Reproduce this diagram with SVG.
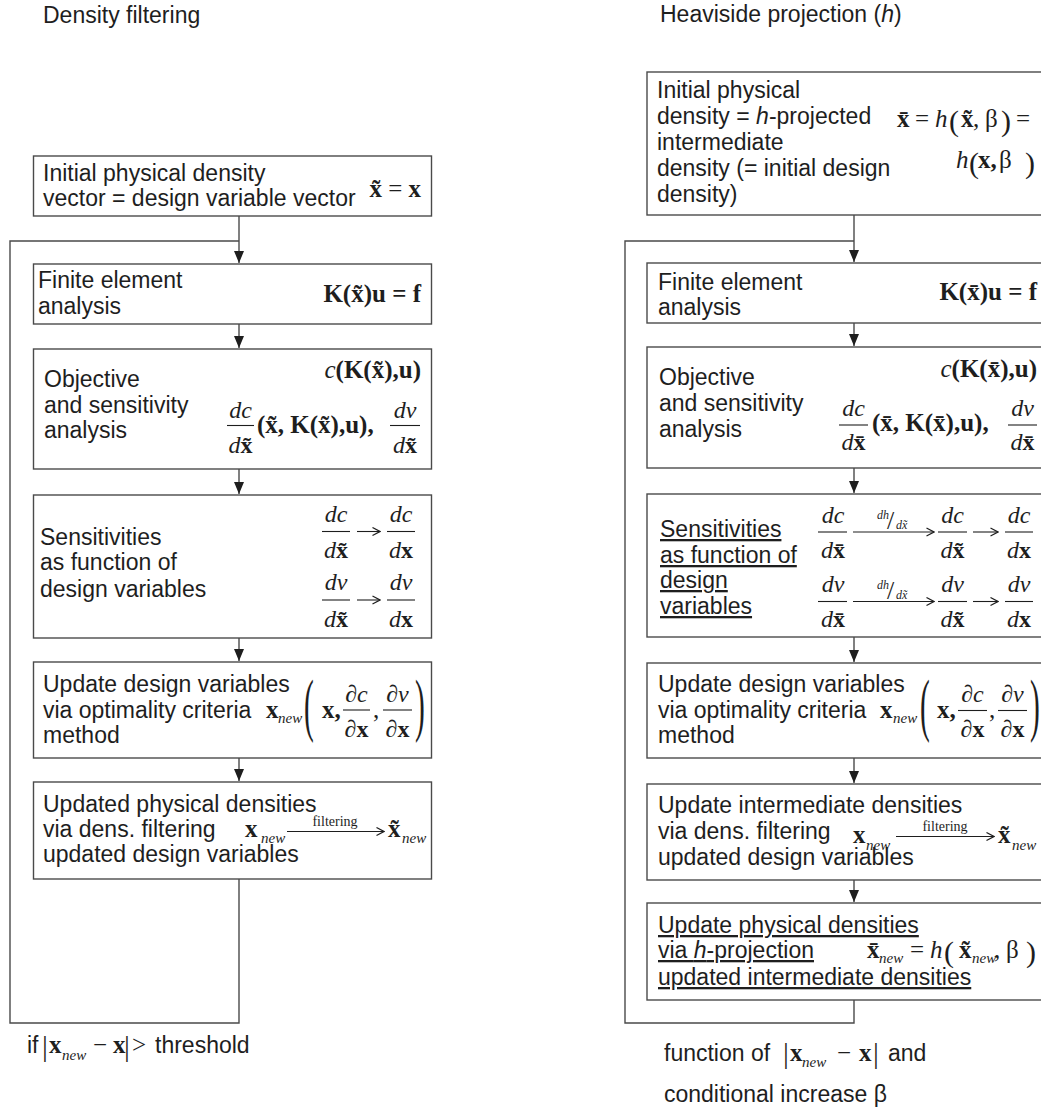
<svg xmlns="http://www.w3.org/2000/svg" width="1041" height="1111" viewBox="0 0 1041 1111">
<defs>
<style>
.t{font-family:"Liberation Sans",Arial,sans-serif;font-size:23px;fill:#1e1e1e}
.m{font-family:"Liberation Serif","Times New Roman",serif;font-size:25px;fill:#1e1e1e}
.f{font-family:"Liberation Serif","Times New Roman",serif;font-size:24px;fill:#1e1e1e}
.b{font-weight:bold}
.i{font-style:italic}
.sub{font-family:"Liberation Serif","Times New Roman",serif;font-size:15px;font-style:italic;fill:#1e1e1e}
.lbl{font-family:"Liberation Serif","Times New Roman",serif;font-size:14px;fill:#1e1e1e}
.sm{font-size:12px}
.sl{font-size:26px}
.bar{font-size:29px}
.p30{font-size:30px}
.big{font-size:70px}
.box{fill:#fff;stroke:#4a4a4a;stroke-width:1.4}
.ln{fill:none;stroke:#4a4a4a;stroke-width:1.4}
.fr{stroke:#1e1e1e;stroke-width:1.1}
.ar{fill:none;stroke:#1e1e1e;stroke-width:1.1}
.u{text-decoration:underline}
</style>
<marker id="ah" viewBox="0 0 12 10" refX="12" refY="5" markerWidth="12" markerHeight="10" markerUnits="userSpaceOnUse" orient="auto"><path d="M0,0 L12,5 L0,10 z" fill="#1e1e1e"/></marker>
<marker id="ch" viewBox="0 0 9 10" refX="8.5" refY="5" markerWidth="9" markerHeight="10" markerUnits="userSpaceOnUse" orient="auto"><path d="M1,1 L8.5,5 L1,9" fill="none" stroke="#1e1e1e" stroke-width="1.2"/></marker>
</defs>
<rect width="1041" height="1111" fill="#fff"/>

<text class="t" x="43" y="23">Density filtering</text>
<text class="t" x="660" y="22">Heaviside projection (<tspan class="i">h</tspan>)</text>

<g id="connectors">
<path class="ln" d="M239,216 V263" marker-end="url(#ah)"/>
<path class="ln" d="M239,879 V1023 H10 V241 H239"/>
<path class="ln" d="M239,324 V348" marker-end="url(#ah)"/>
<path class="ln" d="M239,469 V494" marker-end="url(#ah)"/>
<path class="ln" d="M239,638 V661" marker-end="url(#ah)"/>
<path class="ln" d="M239,758 V781" marker-end="url(#ah)"/>
<path class="ln" d="M854,215 V262" marker-end="url(#ah)"/>
<path class="ln" d="M854,1000 V1023 H625 V241 H854"/>
<path class="ln" d="M854,323 V346" marker-end="url(#ah)"/>
<path class="ln" d="M854,468 V493" marker-end="url(#ah)"/>
<path class="ln" d="M854,637 V662" marker-end="url(#ah)"/>
<path class="ln" d="M854,758 V783" marker-end="url(#ah)"/>
<path class="ln" d="M854,880 V902" marker-end="url(#ah)"/>
</g>

<!-- LEFT COLUMN -->
<g id="l-init">
<rect class="box" x="33.5" y="156" width="398" height="60"/>
<text class="t" x="43" y="181">Initial physical density</text>
<text class="t" x="43" y="206">vector = design variable vector</text>
<text class="m" x="421" y="197" text-anchor="end"><tspan class="b">x&#x303;</tspan> = <tspan class="b">x</tspan></text>
</g>

<g id="l-fea">
<rect class="box" x="33.5" y="264" width="398" height="60"/>
<text class="t" x="38" y="288">Finite element</text>
<text class="t" x="38" y="314">analysis</text>
<text class="m b" x="421" y="302" text-anchor="end">K(x&#x303;)u = f</text>
</g>

<g id="l-obj">
<rect class="box" x="33.5" y="349" width="398" height="120"/>
<text class="t" x="44" y="387">Objective</text>
<text class="t" x="44" y="413">and sensitivity</text>
<text class="t" x="44" y="438">analysis</text>
<text class="m" x="421" y="378" text-anchor="end"><tspan class="i">c</tspan><tspan class="b">(K(x&#x303;),u)</tspan></text>
<text class="f i" x="240.5" y="418" text-anchor="middle">dc</text>
<line class="fr" x1="227" y1="425.5" x2="254" y2="425.5"/>
<text class="f" x="240.5" y="453" text-anchor="middle"><tspan class="i">d</tspan><tspan class="b">x&#x303;</tspan></text>
<text class="m b" x="257" y="433">(x&#x303;, K(x&#x303;),u),</text>
<text class="f i" x="405" y="418" text-anchor="middle">dv</text>
<line class="fr" x1="390" y1="425.5" x2="420" y2="425.5"/>
<text class="f" x="405" y="453" text-anchor="middle"><tspan class="i">d</tspan><tspan class="b">x&#x303;</tspan></text>
</g>

<g id="l-sens">
<rect class="box" x="33.5" y="495" width="398" height="143"/>
<text class="t" x="40" y="545">Sensitivities</text>
<text class="t" x="40" y="570">as function of</text>
<text class="t" x="40" y="597">design variables</text>
<text class="f i" x="336" y="522" text-anchor="middle">dc</text>
<line class="fr" x1="322" y1="531.5" x2="350" y2="531.5"/>
<text class="f" x="336" y="558" text-anchor="middle"><tspan class="i">d</tspan><tspan class="b">x&#x303;</tspan></text>
<line class="ar" x1="357" y1="531.5" x2="380" y2="531.5" marker-end="url(#ch)"/>
<text class="f i" x="401" y="522" text-anchor="middle">dc</text>
<line class="fr" x1="387" y1="531.5" x2="415" y2="531.5"/>
<text class="f" x="401" y="558" text-anchor="middle"><tspan class="i">d</tspan><tspan class="b">x</tspan></text>
<text class="f i" x="336" y="590" text-anchor="middle">dv</text>
<line class="fr" x1="322" y1="600" x2="350" y2="600"/>
<text class="f" x="336" y="627" text-anchor="middle"><tspan class="i">d</tspan><tspan class="b">x&#x303;</tspan></text>
<line class="ar" x1="357" y1="600" x2="380" y2="600" marker-end="url(#ch)"/>
<text class="f i" x="401" y="590" text-anchor="middle">dv</text>
<line class="fr" x1="387" y1="600" x2="415" y2="600"/>
<text class="f" x="401" y="627" text-anchor="middle"><tspan class="i">d</tspan><tspan class="b">x</tspan></text>
</g>

<g id="l-update">
<rect class="box" x="33.5" y="662" width="398" height="96"/>
<text class="t" x="43" y="692">Update design variables</text>
<text class="t" x="43" y="718">via optimality criteria</text>
<text class="t" x="43" y="743">method</text>
<text class="m b" x="266" y="718">x</text>
<text class="sub" x="278" y="723">new</text>
<text class="m big" transform="translate(304,728) scale(0.42,1)">(</text>
<text class="m b" x="322" y="718">x,</text>
<text class="f" x="356.5" y="702" text-anchor="middle"><tspan class="i">∂c</tspan></text>
<line class="fr" x1="343" y1="710" x2="370" y2="710"/>
<text class="f" x="356.5" y="737" text-anchor="middle"><tspan class="i">∂</tspan><tspan class="b">x</tspan></text>
<text class="m" x="373" y="718">,</text>
<text class="f" x="397.5" y="702" text-anchor="middle"><tspan class="i">∂v</tspan></text>
<line class="fr" x1="383" y1="710" x2="412" y2="710"/>
<text class="f" x="397.5" y="737" text-anchor="middle"><tspan class="i">∂</tspan><tspan class="b">x</tspan></text>
<text class="m big" transform="translate(415,728) scale(0.42,1)">)</text>
</g>

<g id="l-filter">
<rect class="box" x="33.5" y="782" width="398" height="97"/>
<text class="t" x="43" y="812">Updated physical densities</text>
<text class="t" x="43" y="837">via dens. filtering</text>
<text class="t" x="43" y="862">updated design variables</text>
<text class="m b" x="245" y="837">x</text>
<text class="sub" x="261" y="843">new</text>
<line class="ar" x1="287" y1="831.5" x2="384" y2="831.5" marker-end="url(#ch)"/>
<text class="lbl" x="335" y="826" text-anchor="middle">filtering</text>
<text class="m b" x="388" y="837">x&#x303;</text>
<text class="sub" x="402" y="843">new</text>
</g>

<g id="l-cond">
<text class="t" x="27" y="1053">if</text>
<text class="m bar" x="42" y="1056">|</text>
<text class="m b" x="49" y="1053">x</text>
<text class="sub" x="62" y="1060">new</text>
<text class="m" x="93" y="1053">−</text>
<text class="m b" x="113" y="1053">x</text>
<text class="m bar" x="124" y="1056">|</text>
<text class="m" x="132" y="1053">&gt;</text>
<text class="t" x="155" y="1053">threshold</text>
</g>

<!-- RIGHT COLUMN -->
<g id="r-init">
<rect class="box" x="647" y="72" width="400" height="143"/>
<text class="t" x="657" y="98">Initial physical</text>
<text class="t" x="657" y="124">density = <tspan class="i">h</tspan>-projected</text>
<text class="t" x="657" y="150">intermediate</text>
<text class="t" x="657" y="176">density (= initial design</text>
<text class="t" x="657" y="202">density)</text>
<text class="m b" x="897" y="127">x&#x304;</text>
<text class="m" x="915" y="127">=</text>
<text class="m i" x="935" y="127">h</text>
<text class="m p30" x="949" y="131">(</text>
<text class="m b" x="961" y="127">x&#x303;</text>
<text class="m" x="973" y="127">,</text>
<text class="m" x="985" y="127">β</text>
<text class="m p30" x="1001" y="131">)</text>
<text class="m" x="1016" y="127">=</text>
<text class="m i" x="956" y="168">h</text>
<text class="m p30" x="969" y="173">(</text>
<text class="m b" x="978" y="168">x,</text>
<text class="m" x="999" y="168">β</text>
<text class="m p30" x="1025" y="173">)</text>
</g>

<g id="r-fea">
<rect class="box" x="647" y="263" width="400" height="60"/>
<text class="t" x="658" y="290">Finite element</text>
<text class="t" x="658" y="315">analysis</text>
<text class="m b" x="1037" y="300" text-anchor="end">K(x&#x304;)u = f</text>
</g>

<g id="r-obj">
<rect class="box" x="647" y="347" width="400" height="121"/>
<text class="t" x="659" y="385">Objective</text>
<text class="t" x="659" y="411">and sensitivity</text>
<text class="t" x="659" y="437">analysis</text>
<text class="m" x="1037" y="377" text-anchor="end"><tspan class="i">c</tspan><tspan class="b">(K(x&#x304;),u)</tspan></text>
<text class="f i" x="853.5" y="416" text-anchor="middle">dc</text>
<line class="fr" x1="839" y1="425" x2="868" y2="425"/>
<text class="f" x="853.5" y="450" text-anchor="middle"><tspan class="i">d</tspan><tspan class="b">x&#x304;</tspan></text>
<text class="m b" x="872" y="431">(x&#x304;, K(x&#x304;),u),</text>
<text class="f i" x="1022.5" y="416" text-anchor="middle">dv</text>
<line class="fr" x1="1008" y1="425" x2="1037" y2="425"/>
<text class="f" x="1022.5" y="450" text-anchor="middle"><tspan class="i">d</tspan><tspan class="b">x&#x304;</tspan></text>
</g>

<g id="r-sens">
<rect class="box" x="647" y="494" width="400" height="143"/>
<text class="t u" x="660" y="537">Sensitivities</text>
<text class="t u" x="660" y="563">as function of</text>
<text class="t u" x="660" y="588">design</text>
<text class="t u" x="660" y="614">variables</text>
<text class="f i" x="833" y="523" text-anchor="middle">dc</text>
<line class="fr" x1="818" y1="532" x2="847" y2="532"/>
<text class="f" x="833" y="558" text-anchor="middle"><tspan class="i">d</tspan><tspan class="b">x&#x304;</tspan></text>
<line class="ar" x1="853" y1="532" x2="934" y2="532" marker-end="url(#ch)"/>
<text class="lbl i sm" x="877" y="519">dh</text>
<text class="lbl sl" x="887" y="529">/</text>
<text class="lbl i sm" x="896" y="529">dx&#x303;</text>
<text class="f i" x="952.5" y="523" text-anchor="middle">dc</text>
<line class="fr" x1="938" y1="532" x2="967" y2="532"/>
<text class="f" x="952.5" y="558" text-anchor="middle"><tspan class="i">d</tspan><tspan class="b">x&#x303;</tspan></text>
<line class="ar" x1="973" y1="532" x2="998" y2="532" marker-end="url(#ch)"/>
<text class="f i" x="1019" y="523" text-anchor="middle">dc</text>
<line class="fr" x1="1005" y1="532" x2="1033" y2="532"/>
<text class="f" x="1019" y="558" text-anchor="middle"><tspan class="i">d</tspan><tspan class="b">x</tspan></text>
<text class="f i" x="833" y="592" text-anchor="middle">dv</text>
<line class="fr" x1="818" y1="601.5" x2="847" y2="601.5"/>
<text class="f" x="833" y="627" text-anchor="middle"><tspan class="i">d</tspan><tspan class="b">x&#x304;</tspan></text>
<line class="ar" x1="853" y1="601.5" x2="934" y2="601.5" marker-end="url(#ch)"/>
<text class="lbl i sm" x="877" y="588.5">dh</text>
<text class="lbl sl" x="887" y="598.5">/</text>
<text class="lbl i sm" x="896" y="598.5">dx&#x303;</text>
<text class="f i" x="952.5" y="592" text-anchor="middle">dv</text>
<line class="fr" x1="938" y1="601.5" x2="967" y2="601.5"/>
<text class="f" x="952.5" y="627" text-anchor="middle"><tspan class="i">d</tspan><tspan class="b">x&#x303;</tspan></text>
<line class="ar" x1="973" y1="601.5" x2="998" y2="601.5" marker-end="url(#ch)"/>
<text class="f i" x="1019" y="592" text-anchor="middle">dv</text>
<line class="fr" x1="1005" y1="601.5" x2="1033" y2="601.5"/>
<text class="f" x="1019" y="627" text-anchor="middle"><tspan class="i">d</tspan><tspan class="b">x</tspan></text>
</g>

<g id="r-update">
<rect class="box" x="647" y="663" width="400" height="95"/>
<text class="t" x="658" y="692">Update design variables</text>
<text class="t" x="658" y="718">via optimality criteria</text>
<text class="t" x="658" y="743">method</text>
<text class="m b" x="880" y="718">x</text>
<text class="sub" x="893" y="723">new</text>
<text class="m big" transform="translate(920,728) scale(0.42,1)">(</text>
<text class="m b" x="937" y="718">x,</text>
<text class="f" x="972.5" y="702" text-anchor="middle"><tspan class="i">∂c</tspan></text>
<line class="fr" x1="958" y1="710.5" x2="987" y2="710.5"/>
<text class="f" x="972.5" y="737" text-anchor="middle"><tspan class="i">∂</tspan><tspan class="b">x</tspan></text>
<text class="m" x="989" y="718">,</text>
<text class="f" x="1012.5" y="702" text-anchor="middle"><tspan class="i">∂v</tspan></text>
<line class="fr" x1="998" y1="710.5" x2="1027" y2="710.5"/>
<text class="f" x="1012.5" y="737" text-anchor="middle"><tspan class="i">∂</tspan><tspan class="b">x</tspan></text>
<text class="m big" transform="translate(1030,728) scale(0.42,1)">)</text>
</g>

<g id="r-filter">
<rect class="box" x="647" y="784" width="400" height="96"/>
<text class="t" x="658" y="813">Update intermediate densities</text>
<text class="t" x="658" y="839">via dens. filtering</text>
<text class="t" x="658" y="865">updated design variables</text>
<text class="m b" x="853" y="843">x</text>
<text class="sub" x="866" y="850">new</text>
<line class="ar" x1="896" y1="836.5" x2="994" y2="836.5" marker-end="url(#ch)"/>
<text class="lbl" x="945" y="831" text-anchor="middle">filtering</text>
<text class="m b" x="998" y="843">x&#x303;</text>
<text class="sub" x="1012" y="850">new</text>
</g>

<g id="r-proj">
<rect class="box" x="647" y="903" width="400" height="97"/>
<text class="t u" x="658" y="933">Update physical densities</text>
<text class="t u" x="658" y="958">via <tspan class="i">h</tspan>-projection</text>
<text class="t u" x="658" y="985">updated intermediate densities</text>
<text class="m b" x="867" y="958">x&#x304;</text>
<text class="sub" x="879" y="963">new</text>
<text class="m" x="910" y="958">=</text>
<text class="m i" x="930" y="958">h</text>
<text class="m p30" x="944" y="962">(</text>
<text class="m b" x="959" y="958">x&#x303;</text>
<text class="sub" x="972" y="963">new</text>
<text class="m" x="994" y="958">,</text>
<text class="m" x="1006" y="958">β</text>
<text class="m p30" x="1026" y="962">)</text>
</g>

<g id="r-cond">
<text class="t" x="664" y="1061">function of</text>
<text class="m bar" x="783" y="1063">|</text>
<text class="m b" x="790" y="1061">x</text>
<text class="sub" x="802" y="1067">new</text>
<text class="m" x="837" y="1061">−</text>
<text class="m b" x="859" y="1061">x</text>
<text class="m bar" x="873" y="1063">|</text>
<text class="t" x="888" y="1061">and</text>
<text class="t" x="664" y="1102">conditional increase β</text>
</g>
</svg>
